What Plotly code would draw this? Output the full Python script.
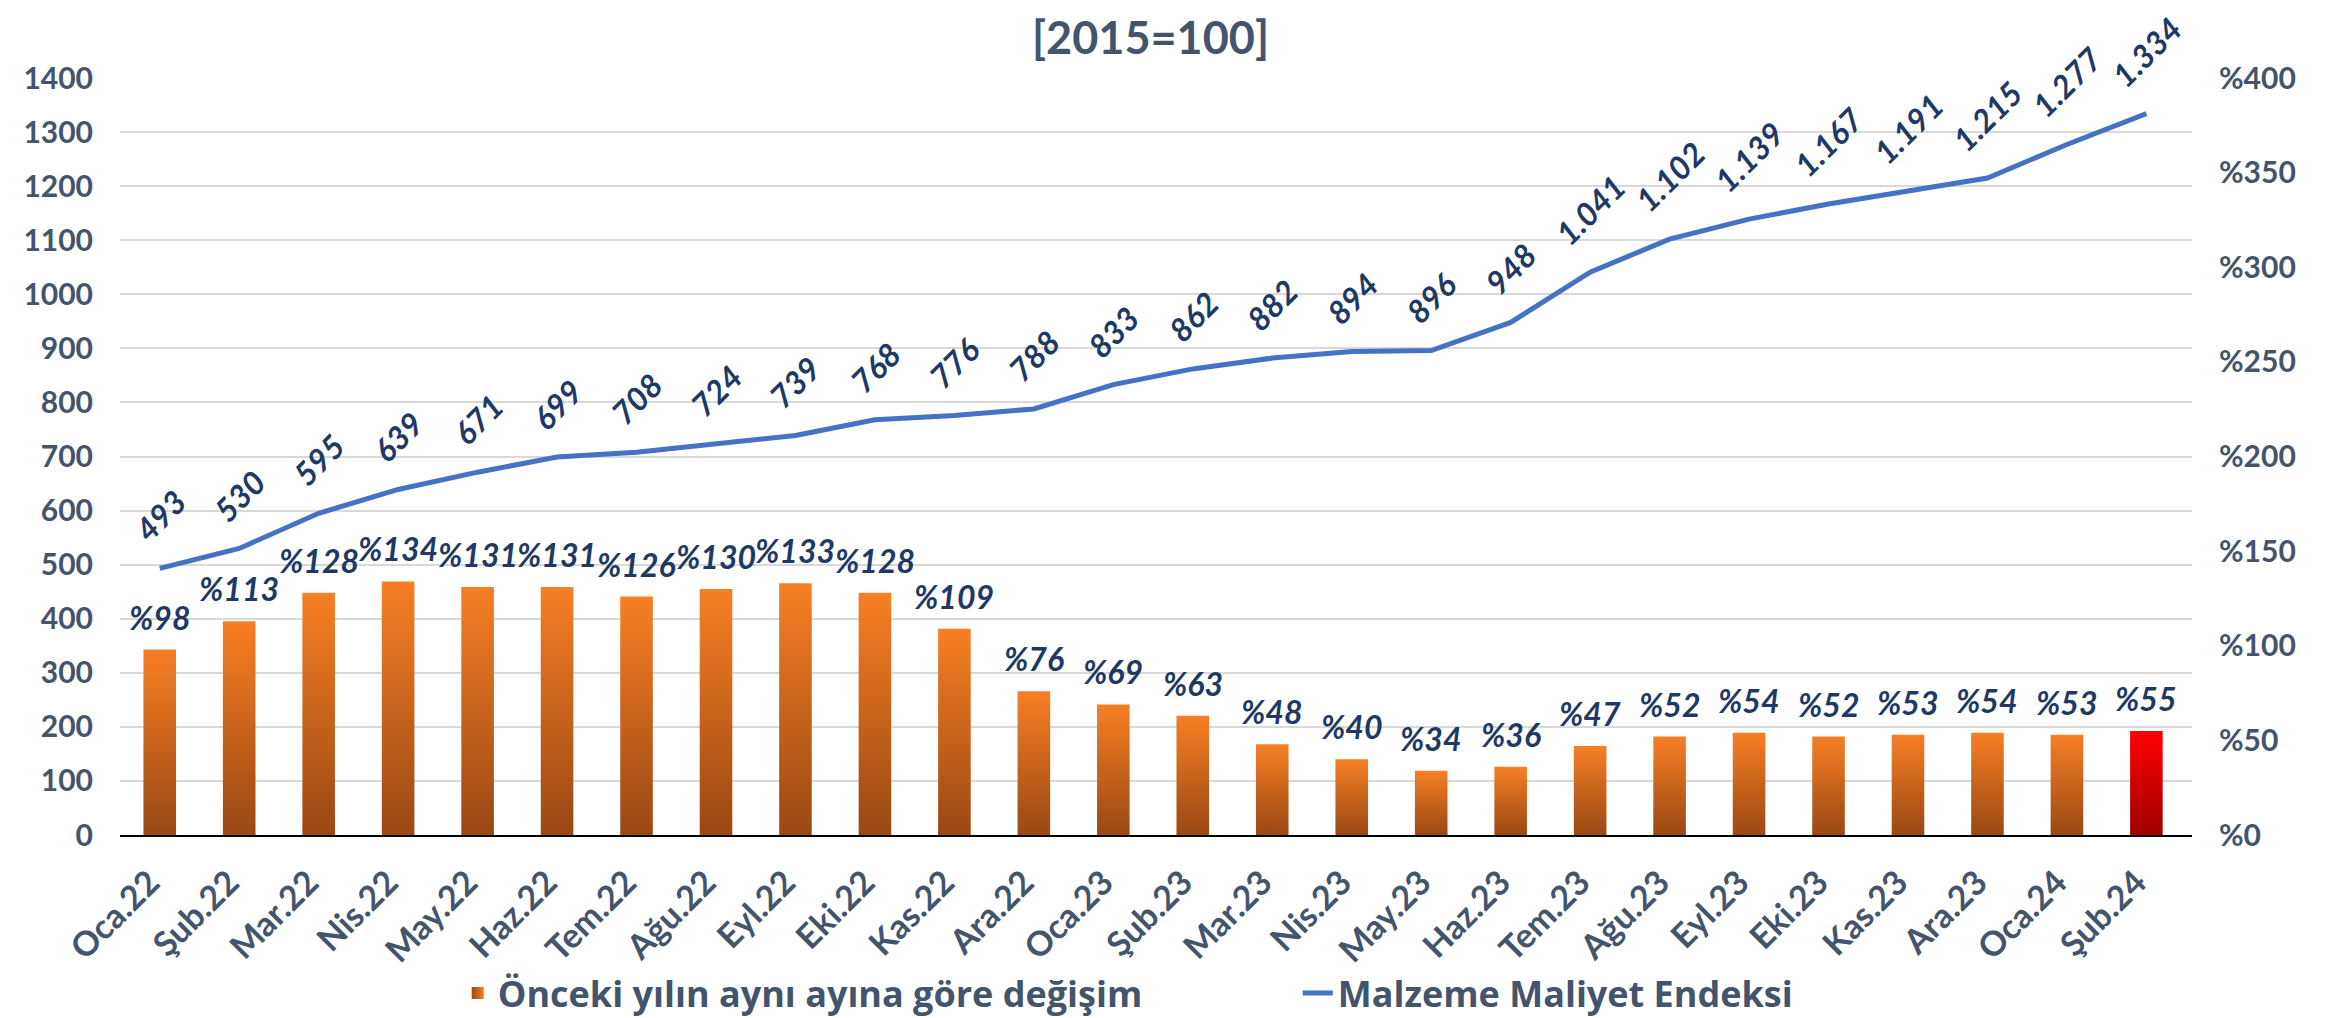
import plotly.graph_objects as go

# ---- data ----
months = ["Oca.22", "Şub.22", "Mar.22", "Nis.22", "May.22", "Haz.22", "Tem.22", "Ağu.22",
          "Eyl.22", "Eki.22", "Kas.22", "Ara.22", "Oca.23", "Şub.23", "Mar.23", "Nis.23",
          "May.23", "Haz.23", "Tem.23", "Ağu.23", "Eyl.23", "Eki.23", "Kas.23", "Ara.23",
          "Oca.24", "Şub.24"]
yoy_change = [98, 113, 128, 134, 131, 131, 126, 130, 133, 128, 109, 76, 69, 63, 48, 40,
              34, 36, 47, 52, 54, 52, 53, 54, 53, 55]
cost_index = [493, 530, 595, 639, 671, 699, 708, 724, 739, 768, 776, 788, 833, 862, 882, 894,
              896, 948, 1041, 1102, 1139, 1167, 1191, 1215, 1277, 1334]
left_ticks = list(range(0, 1401, 100))
right_ticks = list(range(0, 401, 50))
right_tick_text = ["%" + str(v) for v in right_ticks]
bar_name = "Önceki yılın aynı ayına göre değişim"
line_name = "Malzeme Maliyet Endeksi"
title_text = "[2015=100]"

TICK = "#44546A"
LABEL = "#1F3864"
ORANGE = "#E0681E"
RED = "#E00000"
FONT = "Lato, 'Open Sans', sans-serif"
WIDE = "'Open Sans', Lato, sans-serif"

bar_colors = [ORANGE] * (len(months) - 1) + [RED]

fig = go.Figure()
fig.add_trace(go.Bar(
    x=months, y=yoy_change, name=bar_name, yaxis="y2",
    marker=dict(color=bar_colors, line=dict(width=0)),
    hoverinfo="skip",
))
fig.add_trace(go.Scatter(
    x=months, y=cost_index, name=line_name, mode="lines", yaxis="y",
    line=dict(color="#4472C4", width=5),
    hoverinfo="skip",
))

def tr_num(v):
    return f"{v:,}".replace(",", ".")

annotations = []
for m, v in zip(months, cost_index):
    annotations.append(dict(
        x=m, y=v, xref="x", yref="y", text=tr_num(v), showarrow=False,
        textangle=-45, xanchor="center", yanchor="bottom", yshift=17,
        font=dict(family=FONT, size=32, color=LABEL, weight="bold", style="italic"),
    ))
for m, v in zip(months, yoy_change):
    annotations.append(dict(
        x=m, y=v, xref="x", yref="y2", text="%" + str(v), showarrow=False,
        xanchor="center", yanchor="bottom", yshift=11,
        font=dict(family=FONT, size=32, color=LABEL, weight="bold", style="italic"),
    ))

PLOT_H = 1018 - 70 - 191
annotations.append(dict(
    x=0.4975, y=1 + 70 / PLOT_H, xref="paper", yref="paper", text=title_text, showarrow=False,
    xanchor="center", yanchor="top",
    font=dict(family=FONT, size=45, color=TICK, weight="bold"),
))

fig.update_layout(
    width=2335, height=1018,
    margin=dict(l=112, r=151, t=70, b=191, autoexpand=False),
    paper_bgcolor="white", plot_bgcolor="white",
    bargap=0.59,
    showlegend=True,
    legend=dict(orientation="h", x=0.163, xanchor="left", y=-(985 - 827) / PLOT_H, yanchor="middle",
                font=dict(family=WIDE, size=36, color=TICK, weight="bold"),
                entrywidth=795, entrywidthmode="pixels", tracegroupgap=0),
    annotations=annotations,
    xaxis=dict(
        type="category", tickangle=-45, showgrid=False, ticks="", automargin=False,
        showline=True, linecolor="black", linewidth=2,
        tickfont=dict(family=FONT, size=34, color=TICK, weight="bold"),
        ticklabelstandoff=12, ticklabelshift=-10,
    ),
    yaxis=dict(
        range=[0, 1400], tickvals=left_ticks, showgrid=True, gridcolor="#D9D9D9", gridwidth=2,
        zeroline=False, ticks="", showline=False, automargin=False,
        tickfont=dict(family=FONT, size=30, color=TICK, weight="bold"),
        ticklabelstandoff=26,
    ),
    yaxis2=dict(
        range=[0, 400], tickvals=right_ticks, ticktext=right_tick_text, overlaying="y",
        side="right", showgrid=False, zeroline=False, ticks="", showline=False, automargin=False,
        tickfont=dict(family=FONT, size=30, color=TICK, weight="bold"),
        ticklabelstandoff=26,
    ),
)

post = """
(function(){
var gd = document.getElementById('{plot_id}');
var NS = 'http://www.w3.org/2000/svg';
function grad(defs, id, c1, c2, horiz){
  if(document.getElementById(id)) return;
  var g = document.createElementNS(NS,'linearGradient');
  g.setAttribute('id', id);
  g.setAttribute('x1','0'); g.setAttribute('y1','0');
  g.setAttribute('x2', horiz ? '1' : '0'); g.setAttribute('y2', horiz ? '0' : '1');
  [[0,c1],[1,c2]].forEach(function(s){
    var st = document.createElementNS(NS,'stop');
    st.setAttribute('offset', s[0]); st.setAttribute('stop-color', s[1]);
    g.appendChild(st);
  });
  defs.appendChild(g);
}
function apply(){
  var svg = gd.querySelector('svg.main-svg');
  if(!svg) return;
  var defs = svg.querySelector('defs');
  if(!defs){ defs = document.createElementNS(NS,'defs'); svg.insertBefore(defs, svg.firstChild); }
  grad(defs,'gOr','#F77F24','#994814',false);
  grad(defs,'gRd','#FF0000','#A00000',false);
  grad(defs,'gLg','#994814','#F77F24',true);
  var paths = gd.querySelectorAll('.barlayer .point path');
  paths.forEach(function(p,i){ p.style.fill = (i === paths.length-1) ? 'url(#gRd)' : 'url(#gOr)'; });
  var tr = gd.querySelectorAll('.legend .traces');
  if(tr.length){ tr[0].querySelectorAll('.legendpoints path').forEach(function(p){ p.style.fill = 'url(#gLg)'; }); }
}
apply();
gd.on('plotly_afterplot', apply);
})();
"""

fig.write_html("out.html", post_script=post)
